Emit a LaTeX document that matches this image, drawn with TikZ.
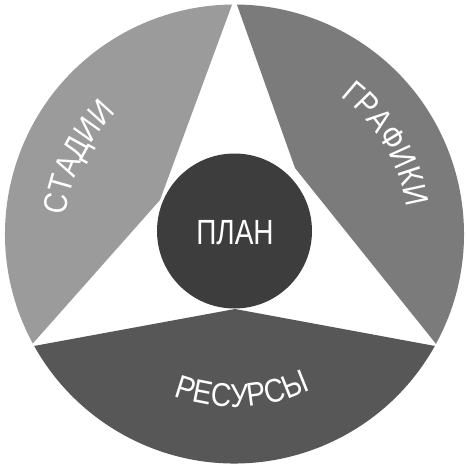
\documentclass[tikz,border=0pt]{standalone}
\usepackage{fontspec}
\newfontfamily\labelfont[FakeStretch=0.86]{Liberation Sans}
\newfontfamily\planfont[FakeStretch=0.8]{Liberation Sans}
\usetikzlibrary{decorations.text}
\definecolor{segL}{RGB}{155,155,155}
\definecolor{segR}{RGB}{123,123,123}
\definecolor{segB}{RGB}{87,87,87}
\definecolor{core}{RGB}{61,61,61}
\tikzset{
  arclabel/.style={decorate, decoration={text along path, text align=center,
     text={|\labelfont\fontsize{33}{33}\selectfont\color{white}|#1}}},
}
\begin{document}
\begin{tikzpicture}[x=1pt,y=1pt]
\fill[white] (-234.5,-233) rectangle (232.5,234);
\useasboundingbox (-234.5,-233) rectangle (232.5,234);
\def\R{229.5}
% left segment
\fill[segL] (90.6:\R) -- (-74.5,34) -- (208.5:\R)
  arc[start angle=208.5, end angle=90.6, radius=\R] -- cycle;
% right segment
\fill[segR] (89.4:\R) -- (60.5,66) -- (-28.6:\R)
  arc[start angle=-28.6, end angle=89.4, radius=\R] -- cycle;
% bottom segment
\fill[segB] (209.2:\R) -- (0.5,-75) -- (-29.2:\R)
  arc[start angle=-29.2, end angle=-150.8, radius=\R] -- cycle;
% centre
\node[circle, fill=core, minimum size=155pt, inner sep=0pt] (plancircle) at (0,3) {};
\node[text=white, inner sep=0pt, font=\planfont\fontsize{35}{35}\selectfont] (plan) at (0.5,1.5) {ПЛАН};
% curved labels
\path[arclabel=СТАДИИ] (194:169.5) arc[start angle=194, end angle=114, radius=169.5];
\path[arclabel=ГРАФИКИ] (70.6:174) arc[start angle=70.6, end angle=-9.4, radius=174];
\path[arclabel=РЕСУРСЫ] (-127.3:173) arc[start angle=-127.3, end angle=-47.3, radius=173];
\end{tikzpicture}
\end{document}
